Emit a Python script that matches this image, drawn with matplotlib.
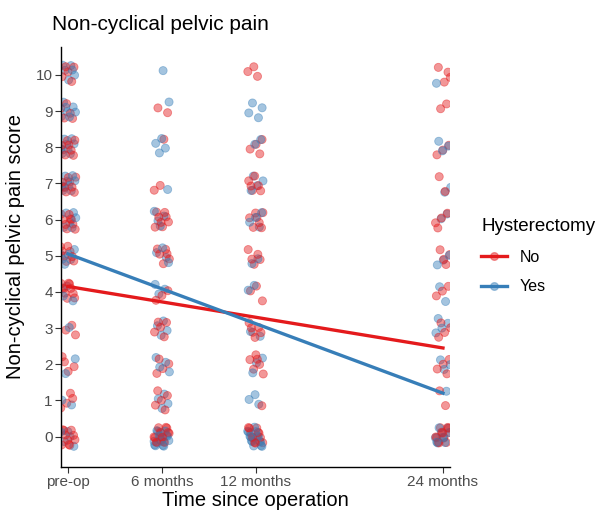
import matplotlib
matplotlib.use("Agg")
import matplotlib.pyplot as plt
from matplotlib.lines import Line2D
import numpy as np

plt.rcParams['font.family'] = ['Liberation Sans', 'DejaVu Sans']

# time points (months) and their labels
times = [0, 6, 12, 24]
time_labels = ["pre-op", "6 months", "12 months", "24 months"]
scores = list(range(11))

# number of patients at each score (0..10), one row per time point
counts_no = [
    [10, 4, 4, 3, 10, 8, 9, 9, 8, 5, 5],
    [15, 5, 4, 5, 3, 6, 8, 2, 1, 2, 0],
    [12, 1, 6, 6, 3, 5, 7, 6, 4, 0, 3],
    [12, 2, 4, 4, 3, 4, 4, 2, 3, 2, 4],
]
counts_yes = [
    [5, 2, 2, 1, 3, 6, 6, 8, 8, 7, 6],
    [15, 4, 4, 4, 3, 4, 4, 1, 4, 1, 1],
    [15, 3, 3, 2, 2, 2, 4, 4, 2, 4, 0],
    [10, 1, 3, 4, 2, 3, 2, 2, 3, 0, 1],
]

# fitted linear trends
fit_time = [0, 24]
fit_no = [4.15, 2.45]
fit_yes = [5.05, 1.20]

red = "#E41A1C"
blue = "#377EB8"


def expand(counts):
    xs, ys = [], []
    for t, row in zip(times, counts):
        for s, n in zip(scores, row):
            xs += [t] * n
            ys += [s] * n
    return np.array(xs, float), np.array(ys, float)


# deterministic jitter (low-discrepancy sequence instead of random noise)
def jitter(n, start, w=0.5, h=0.27):
    k = np.arange(start, start + n)
    dx = w * (2 * ((k * 0.6180339887) % 1) - 1)
    dy = h * (2 * ((k * 0.7548776662 + 0.3) % 1) - 1)
    return dx, dy


x_no, y_no = expand(counts_no)
x_yes, y_yes = expand(counts_yes)
dx, dy = jitter(len(x_no), 1)
x_no, y_no = x_no + dx, y_no + dy
dx, dy = jitter(len(x_yes), 500)
x_yes, y_yes = x_yes + dx, y_yes + dy

# interleave both groups so neither one is always on top
xs = np.concatenate([x_no, x_yes])
ys = np.concatenate([y_no, y_yes])
cs = [red] * len(x_no) + [blue] * len(x_yes)
order = np.argsort((np.arange(len(xs)) * 37) % len(xs))

fig = plt.figure(figsize=(6.06, 5.13), dpi=100)
ax = fig.add_axes([61 / 606, 1 - 467 / 513, 389 / 606, 420 / 513])

ax.scatter(xs[order], ys[order], s=34, c=[cs[i] for i in order],
           alpha=0.45, linewidths=0.6, zorder=2)

ax.plot(fit_time, fit_no, color=red, lw=2.4, zorder=3)
ax.plot(fit_time, fit_yes, color=blue, lw=2.4, zorder=3)

ax.set_xlim(-0.45, 24.45)
ax.set_ylim(-0.84, 10.77)
ax.set_xticks(times)
ax.set_xticklabels(time_labels)
ax.set_yticks(scores)

for side in ["top", "right"]:
    ax.spines[side].set_visible(False)
for side in ["left", "bottom"]:
    ax.spines[side].set_linewidth(1.0)
ax.tick_params(length=4, width=0.8, color="#333333", labelcolor="#4D4D4D",
               labelsize=11, pad=2)

ax.set_xlabel("Time since operation", fontsize=14.5, labelpad=1)
ax.set_ylabel("Non-cyclical pelvic pain score", fontsize=14.5)
ax.yaxis.set_label_coords(-0.093, 0.525)
fig.text(52 / 606, 1 - 30 / 513, "Non-cyclical pelvic pain", fontsize=15,
         va="baseline", ha="left")

a = 0.45
handles = [
    Line2D([0], [0], color=red, lw=2.4, marker="o", markersize=5.5,
           markerfacecolor=(0.894, 0.102, 0.110, a), markeredgecolor=(0.894, 0.102, 0.110, a)),
    Line2D([0], [0], color=blue, lw=2.4, marker="o", markersize=5.5,
           markerfacecolor=(0.216, 0.494, 0.722, a), markeredgecolor=(0.216, 0.494, 0.722, a)),
]
leg = ax.legend(handles, ["No", "Yes"], title="Hysterectomy",
                loc="upper left", bbox_to_anchor=(467 / 606, 1 - 204 / 513),
                bbox_transform=fig.transFigure, frameon=False, fontsize=11.5,
                title_fontsize=13.5, alignment="left", handlelength=1.6,
                handletextpad=0.8, labelspacing=0.9)

fig.savefig("out.png", dpi=100)
